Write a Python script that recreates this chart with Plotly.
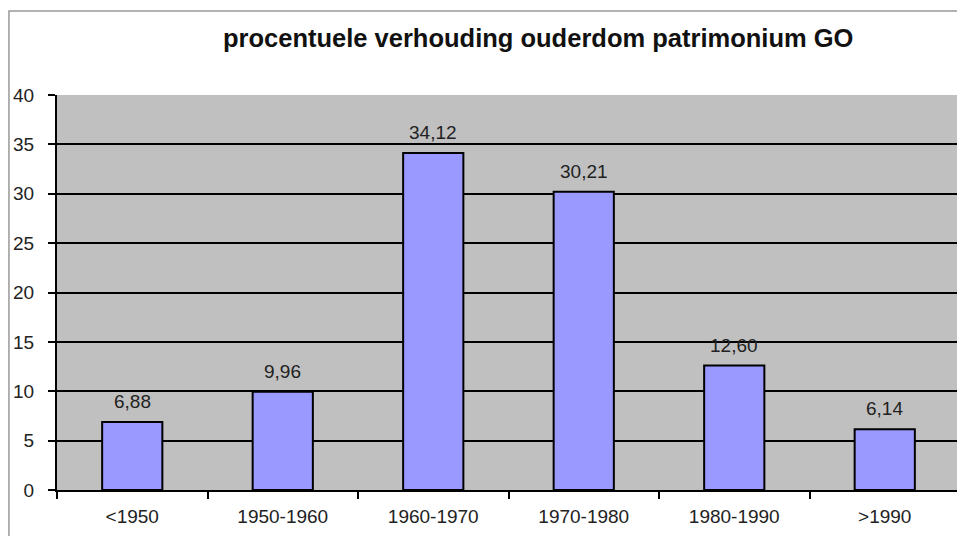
import plotly.graph_objects as go

# categories and values
periods = ['<1950', '1950-1960', '1960-1970', '1970-1980', '1980-1990', '>1990']
percent = [6.88, 9.96, 34.12, 30.21, 12.60, 6.14]
y_ticks = [0, 5, 10, 15, 20, 25, 30, 35, 40]

FONT = 'Liberation Sans, Arial'

fig = go.Figure()
fig.add_trace(go.Bar(
    x=periods,
    y=percent,
    width=0.4,
    marker=dict(color='#9999FF', line=dict(color='black', width=2)),
    hoverinfo='x+y',
))

# value labels above each bar (decimal comma)
for p, v in zip(periods, percent):
    fig.add_annotation(
        x=p, y=v, text=f'{v:.2f}'.replace('.', ','),
        showarrow=False, yanchor='bottom', yshift=8,
        font=dict(family=FONT, size=19, color='#222222'),
    )

fig.update_layout(
    width=957, height=528,
    margin=dict(l=49, r=5, t=87, b=46),
    paper_bgcolor='white',
    plot_bgcolor='#C0C0C0',
    showlegend=False,
    font=dict(family=FONT, size=19, color='#222222'),
    title=dict(
        text='<b>procentuele verhouding ouderdom patrimonium GO</b>',
        x=0.554, xanchor='center', y=0.943, yanchor='middle',
        font=dict(size=25.5, color='#111111'),
    ),
    xaxis=dict(
        type='category',
        tickson='boundaries',
        ticks='outside', ticklen=7, tickcolor='black', tickwidth=2,
        ticklabelstandoff=8,
        showline=True, linecolor='black', linewidth=2,
        showgrid=False,
    ),
    yaxis=dict(
        range=[0, 40],
        tickvals=y_ticks,
        ticks='outside', ticklen=7, tickcolor='black', tickwidth=2,
        ticklabelstandoff=10,
        showline=True, linecolor='black', linewidth=2,
        showgrid=True, gridcolor='black', gridwidth=2,
        zeroline=False,
    ),
)

# thin chart-area frame like the spreadsheet export
fig.add_shape(type='rect', xref='paper', yref='paper',
              x0=-0.0532, y0=-0.3, x1=1.1, y1=1.2127,
              line=dict(color='#999999', width=1.5), layer='below')

fig.write_html("out.html")
